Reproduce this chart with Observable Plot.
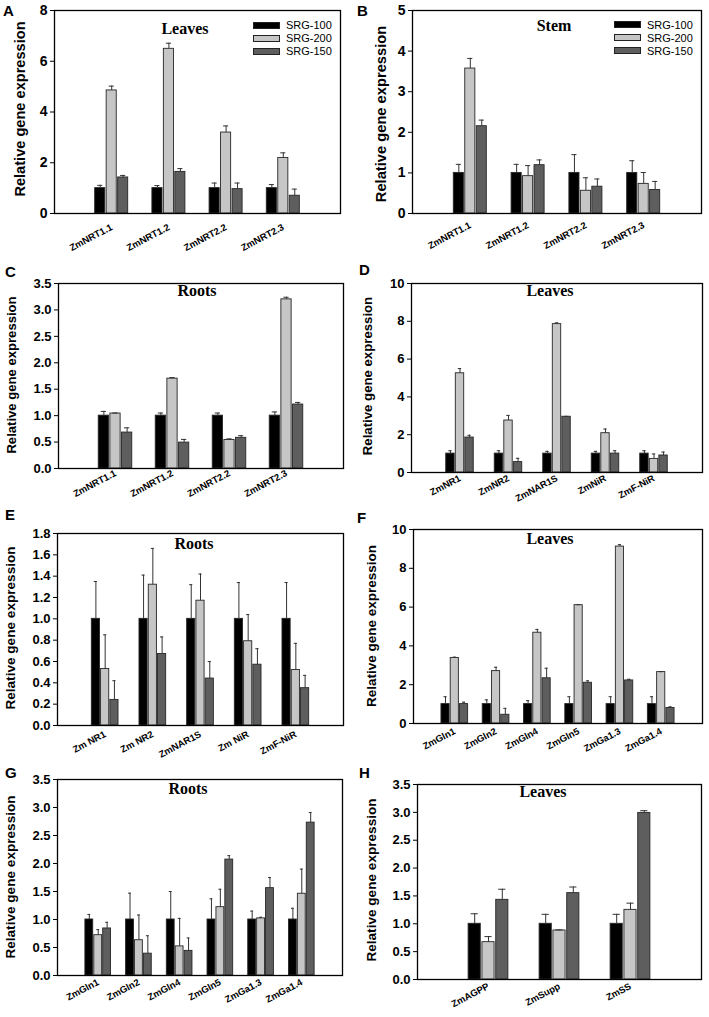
<!DOCTYPE html>
<html><head><meta charset="utf-8">
<script src="https://cdn.jsdelivr.net/npm/d3@7"></script>
<script src="https://cdn.jsdelivr.net/npm/@observablehq/plot@0.6"></script>
<style>
body{margin:0;background:#fff;}
#page{position:relative;width:709px;height:1017px;overflow:hidden;font-family:"Liberation Sans",Arial,sans-serif;background:#fff;}
.layer{position:absolute;left:0;top:0;}
.letter{position:absolute;font-weight:bold;font-size:15px;line-height:1;}
.title{position:absolute;font-family:"Liberation Serif","Times New Roman",serif;font-weight:bold;font-size:16px;line-height:1;transform:translateX(-50%);white-space:nowrap;}
.ylab{position:absolute;font-weight:bold;white-space:nowrap;transform:translate(-50%,-50%) rotate(-90deg);line-height:1;}
.legend{position:absolute;font-size:11px;}
.legend .row{display:flex;align-items:center;height:13px;}
.legend .sw{width:25px;height:5px;border:1px solid #222;margin-right:6px;}
</style></head><body><div id="page"></div><script>
const series = ["SRG-100", "SRG-200", "SRG-150"];
const colors = ["#000000", "#c6c6c6", "#5e5e5e"];

// A: Leaves, nitrate transporters
const genesA = ["ZmNRT1.1", "ZmNRT1.2", "ZmNRT2.2", "ZmNRT2.3"];
const srg100A = [1, 1, 1, 1];
const srg200A = [4.85, 6.49, 3.19, 2.19];
const srg150A = [1.42, 1.64, 0.96, 0.70];
const err100A = [0.11, 0.10, 0.20, 0.14];
const err200A = [0.17, 0.22, 0.26, 0.20];
const err150A = [0.08, 0.13, 0.24, 0.26];
const ticksA = [0, 2, 4, 6, 8];

// B: Stem
const genesB = ["ZmNRT1.1", "ZmNRT1.2", "ZmNRT2.2", "ZmNRT2.3"];
const srg100B = [1, 1, 1, 1];
const srg200B = [3.57, 0.92, 0.56, 0.73];
const srg150B = [2.15, 1.19, 0.66, 0.58];
const err100B = [0.21, 0.21, 0.45, 0.30];
const err200B = [0.25, 0.26, 0.32, 0.28];
const err150B = [0.15, 0.13, 0.19, 0.21];
const ticksB = [0, 1, 2, 3, 4, 5];

// C: Roots
const genesC = ["ZmNRT1.1", "ZmNRT1.2", "ZmNRT2.2", "ZmNRT2.3"];
const srg100C = [1, 1, 1, 1];
const srg200C = [1.04, 1.70, 0.54, 3.20];
const srg150C = [0.68, 0.49, 0.58, 1.21];
const err100C = [0.08, 0.05, 0.05, 0.07];
const err200C = [0.01, 0.02, 0.02, 0.04];
const err150C = [0.09, 0.06, 0.04, 0.04];
const ticksC = [0, 0.5, 1, 1.5, 2, 2.5, 3, 3.5];

// D: Leaves, NR / NiR
const genesD = ["ZmNR1", "ZmNR2", "ZmNAR1S", "ZmNiR", "ZmF-NiR"];
const srg100D = [1, 1, 1, 1, 1];
const srg200D = [5.25, 2.75, 7.85, 2.08, 0.72];
const srg150D = [1.85, 0.55, 2.95, 1.00, 0.90];
const err100D = [0.15, 0.15, 0.12, 0.12, 0.15];
const err200D = [0.25, 0.27, 0.07, 0.22, 0.26];
const err150D = [0.12, 0.20, 0.02, 0.15, 0.18];
const ticksD = [0, 2, 4, 6, 8, 10];

// E: Roots, NR / NiR
const genesE = ["Zm NR1", "Zm NR2", "ZmNAR1S", "Zm NiR", "ZmF-NiR"];
const srg100E = [1, 1, 1, 1, 1];
const srg200E = [0.53, 1.32, 1.17, 0.79, 0.52];
const srg150E = [0.24, 0.67, 0.44, 0.57, 0.35];
const err100E = [0.35, 0.41, 0.32, 0.34, 0.34];
const err200E = [0.32, 0.34, 0.25, 0.25, 0.25];
const err150E = [0.18, 0.16, 0.16, 0.15, 0.12];
const ticksE = [0, 0.2, 0.4, 0.6, 0.8, 1.0, 1.2, 1.4, 1.6, 1.8];

// F: Leaves, GS / GOGAT
const genesF = ["ZmGln1", "ZmGln2", "ZmGln4", "ZmGln5", "ZmGa1.3", "ZmGa1.4"];
const srg100F = [1, 1, 1, 1, 1, 1];
const srg200F = [3.38, 2.70, 4.68, 6.10, 9.12, 2.65];
const srg150F = [1.00, 0.45, 2.33, 2.10, 2.22, 0.80];
const err100F = [0.38, 0.22, 0.18, 0.38, 0.38, 0.38];
const err200F = [0.04, 0.20, 0.17, 0.02, 0.10, 0.02];
const err150F = [0.10, 0.33, 0.52, 0.10, 0.06, 0.06];
const ticksF = [0, 2, 4, 6, 8, 10];

// G: Roots, GS / GOGAT
const genesG = ["ZmGln1", "ZmGln2", "ZmGln4", "ZmGln5", "ZmGa1.3", "ZmGa1.4"];
const srg100G = [1, 1, 1, 1, 1, 1];
const srg200G = [0.72, 0.63, 0.52, 1.22, 1.02, 1.46];
const srg150G = [0.84, 0.39, 0.44, 2.07, 1.56, 2.73];
const err100G = [0.09, 0.47, 0.50, 0.37, 0.15, 0.20];
const err200G = [0.10, 0.45, 0.50, 0.32, 0.02, 0.44];
const err150G = [0.11, 0.32, 0.23, 0.07, 0.19, 0.18];
const ticksG = [0, 0.5, 1, 1.5, 2, 2.5, 3, 3.5];

// H: Leaves, sugar metabolism
const genesH = ["ZmAGPP", "ZmSupp", "ZmSS"];
const srg100H = [1, 1, 1];
const srg200H = [0.67, 0.88, 1.25];
const srg150H = [1.43, 1.55, 2.99];
const err100H = [0.18, 0.17, 0.17];
const err200H = [0.10, 0.01, 0.12];
const err150H = [0.19, 0.11, 0.04];
const ticksH = [0, 0.5, 1, 1.5, 2, 2.5, 3, 3.5];

const panels = [
  {letter: "A", title: "Leaves", genes: genesA, vals: [srg100A, srg200A, srg150A], errs: [err100A, err200A, err150A], ticks: ticksA, fmt: "d",
   x0: 54, x1: 340, y0: 10, y1: 213, frac: 0.577, tfs: 14, xpad: 13,
   lpos: [3, 3], tpos: [185, 21], ypos: [20, 109, 14.6], legend: [253, 18.5]},
  {letter: "B", title: "Stem", genes: genesB, vals: [srg100B, srg200B, srg150B], errs: [err100B, err200B, err150B], ticks: ticksB, fmt: "d",
   x0: 412, x1: 701, y0: 10, y1: 213, frac: 0.571, tfs: 14, xpad: 11,
   lpos: [357, 3], tpos: [554, 18], ypos: [381, 114, 14.7], legend: [614, 18]},
  {letter: "C", title: "Roots", genes: genesC, vals: [srg100C, srg200C, srg150C], errs: [err100C, err200C, err150C], ticks: ticksC, fmt: ".1f",
   x0: 58, x1: 343, y0: 283, y1: 468, frac: 0.588, tfs: 13, xpad: 4,
   lpos: [5, 264], tpos: [197, 283], ypos: [12, 375, 13.1]},
  {letter: "D", title: "Leaves", genes: genesD, vals: [srg100D, srg200D, srg150D], errs: [err100D, err200D, err150D], ticks: ticksD, fmt: "d",
   x0: 411, x1: 702, y0: 283, y1: 472, frac: 0.567, tfs: 13, xpad: 5,
   lpos: [359, 262], tpos: [550, 283], ypos: [368, 376, 13.2]},
  {letter: "E", title: "Roots", genes: genesE, vals: [srg100E, srg200E, srg150E], errs: [err100E, err200E, err150E], ticks: ticksE, fmt: ".1f",
   x0: 57, x1: 343, y0: 533, y1: 725, frac: 0.56, tfs: 13, xpad: 8,
   lpos: [5, 507], tpos: [194, 536], ypos: [11, 628, 13.6]},
  {letter: "F", title: "Leaves", genes: genesF, vals: [srg100F, srg200F, srg150F], errs: [err100F, err200F, err150F], ticks: ticksF, fmt: "d",
   x0: 413, x1: 702, y0: 529, y1: 723, frac: 0.646, tfs: 13, xpad: 7,
   lpos: [357, 510], tpos: [550, 531], ypos: [372, 626, 13.5]},
  {letter: "G", title: "Roots", genes: genesG, vals: [srg100G, srg200G, srg150G], errs: [err100G, err200G, err150G], ticks: ticksG, fmt: ".1f",
   x0: 57, x1: 342, y0: 779, y1: 975, frac: 0.63, tfs: 13, xpad: 6,
   lpos: [5, 765], tpos: [188, 781], ypos: [11, 877, 13.6]},
  {letter: "H", title: "Leaves", genes: genesH, vals: [srg100H, srg200H, srg150H], errs: [err100H, err200H, err150H], ticks: ticksH, fmt: ".1f",
   x0: 417, x1: 701, y0: 784, y1: 979, frac: 0.56, tfs: 13, xpad: 6,
   lpos: [359, 765], tpos: [543, 784], ypos: [372, 880, 13.6]}
];

const page = document.getElementById("page");
const W = 709, H = 1017;
const baseStyle = {background: "transparent", overflow: "visible", fontFamily: "'Liberation Sans', Arial, sans-serif", color: "#000"};

for (const p of panels) {
  const rows = p.genes.flatMap((g, i) => series.map((s, k) => ({gene: g, series: s, value: p.vals[k][i], err: p.errs[k][i]})));
  const pi = 1 - p.frac, po = 0.5 + pi / 2;
  const margins = {marginLeft: p.x0, marginRight: W - p.x1, marginTop: p.y0, marginBottom: H - p.y1};
  const ydom = [0, p.ticks[p.ticks.length - 1]];

  // bars, error bars and category axis (faceted by gene)
  const bars = Plot.plot({
    width: W, height: H, ...margins, style: baseStyle,
    fx: {domain: p.genes, paddingInner: pi, paddingOuter: po, round: false, label: null},
    x: {domain: series, paddingInner: 0.12, paddingOuter: 0, round: false, axis: null},
    y: {domain: ydom, axis: null},
    color: {domain: series, range: colors},
    marks: [
      Plot.barY(rows, {fx: "gene", x: "series", y: "value", fill: "series", stroke: "#262626", strokeWidth: 0.9}),
      Plot.ruleX(rows, {fx: "gene", x: "series", y1: "value", y2: d => d.value + d.err, stroke: "#333", strokeWidth: 1}),
      Plot.tickY(rows, {fx: "gene", x: "series", y: d => d.value + d.err, stroke: "#333", strokeWidth: 1, insetLeft: 2.5, insetRight: 2.5}),
      Plot.axisFx({anchor: "bottom", tickRotate: -28, tickSize: 0, tickPadding: p.xpad, fontSize: 9.5, fontWeight: "bold", label: null})
    ]
  });
  bars.classList.add("layer");
  page.appendChild(bars);

  // frame and value axis
  const axes = Plot.plot({
    width: W, height: H, ...margins, style: baseStyle,
    y: {domain: ydom},
    marks: [
      Plot.frame({stroke: "#000", strokeWidth: 1.3}),
      Plot.axisY({ticks: p.ticks, tickFormat: p.fmt, tickSize: 4, tickPadding: 3, fontSize: p.tfs, fontWeight: "bold", label: null})
    ]
  });
  axes.classList.add("layer");
  page.appendChild(axes);

  const L = document.createElement("div");
  L.className = "letter"; L.textContent = p.letter;
  L.style.left = p.lpos[0] + "px"; L.style.top = p.lpos[1] + "px";
  page.appendChild(L);

  const T = document.createElement("div");
  T.className = "title"; T.textContent = p.title;
  T.style.left = p.tpos[0] + "px"; T.style.top = p.tpos[1] + "px";
  page.appendChild(T);

  const Y = document.createElement("div");
  Y.className = "ylab"; Y.textContent = "Relative gene expression";
  Y.style.left = p.ypos[0] + "px"; Y.style.top = p.ypos[1] + "px"; Y.style.fontSize = p.ypos[2] + "px";
  page.appendChild(Y);

  if (p.legend) {
    const lg = document.createElement("div");
    lg.className = "legend";
    lg.style.left = p.legend[0] + "px"; lg.style.top = p.legend[1] + "px";
    series.forEach((s, k) => {
      const r = document.createElement("div"); r.className = "row";
      const sw = document.createElement("div"); sw.className = "sw"; sw.style.background = colors[k];
      const tx = document.createElement("span"); tx.textContent = s;
      r.appendChild(sw); r.appendChild(tx); lg.appendChild(r);
    });
    page.appendChild(lg);
  }
}
</script></body></html>
